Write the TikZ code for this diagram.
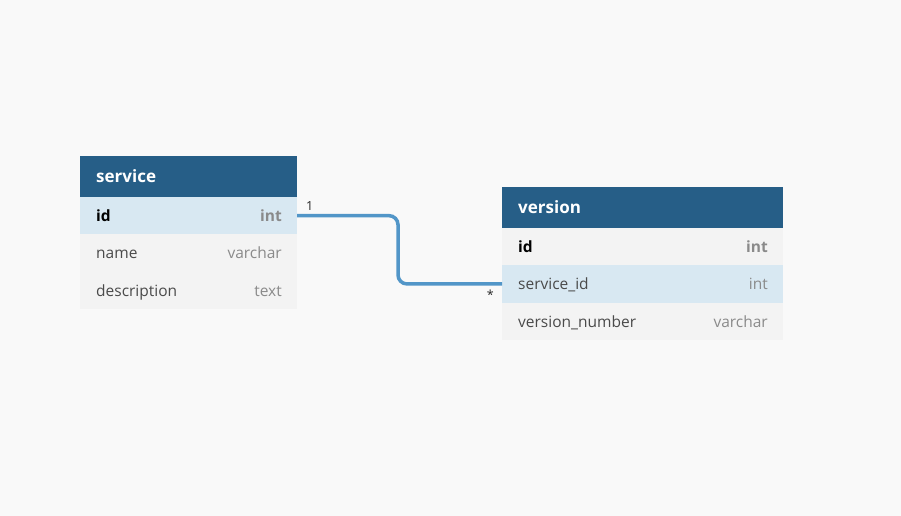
\documentclass[tikz,border=0pt]{standalone}
\usepackage{fontspec}
\setmainfont{Open Sans}
\usetikzlibrary{positioning}

\definecolor{bgcol}{HTML}{F9F9F9}
\definecolor{hdrcol}{HTML}{265E87}
\definecolor{rowcol}{HTML}{F3F3F3}
\definecolor{hicol}{HTML}{D8E8F2}
\definecolor{linkcol}{HTML}{5296C8}
\definecolor{namecol}{HTML}{4A4A4A}
\definecolor{typecol}{HTML}{8A8A8A}

\tikzset{
  cell/.style={inner sep=0pt, outer sep=0pt, minimum height=37.3pt},
  hdr/.style={cell, fill=hdrcol, minimum height=41pt},
  row/.style={cell, fill=rowcol},
  rowhi/.style={cell, fill=hicol},
  txt/.style={inner sep=0pt, text height=13pt, text depth=1pt, font=\fontsize{15.5}{18}\selectfont},
  title/.style={txt, text=white, font=\fontsize{17}{19}\selectfont\bfseries},
  fname/.style={txt, text=namecol},
  ftype/.style={txt, text=typecol},
  pkname/.style={txt, text=black, font=\fontsize{15.5}{18}\selectfont\bfseries},
  pktype/.style={txt, text=typecol, font=\fontsize{15.5}{18}\selectfont\bfseries},
  card/.style={inner sep=0pt, text=black!85, font=\fontsize{12.5}{14}\selectfont}
}

\begin{document}
\begin{tikzpicture}[x=1pt, y=-1pt]
  \fill[bgcol] (0,0) rectangle (901,516);
  \useasboundingbox (0,0) rectangle (901,516);

  % service table
  \node[hdr, minimum width=217pt, anchor=north west] (svc) at (80,156) {};
  \node[rowhi, minimum width=217pt, below=0pt of svc] (svc-id) {};
  \node[row, minimum width=217pt, below=0pt of svc-id] (svc-name) {};
  \node[row, minimum width=217pt, below=0pt of svc-name] (svc-desc) {};

  \node[title, anchor=west] (svc-t) at ([xshift=16pt]svc.west) {service};
  \node[pkname, anchor=west] (svc-id-n) at ([xshift=16pt]svc-id.west) {id};
  \node[pktype, anchor=east] (svc-id-t) at ([xshift=-15pt]svc-id.east) {int};
  \node[fname, anchor=west] (svc-name-n) at ([xshift=16pt]svc-name.west) {name};
  \node[ftype, anchor=east] (svc-name-t) at ([xshift=-15pt]svc-name.east) {varchar};
  \node[fname, anchor=west] (svc-desc-n) at ([xshift=16pt]svc-desc.west) {description};
  \node[ftype, anchor=east] (svc-desc-t) at ([xshift=-15pt]svc-desc.east) {text};

  % version table
  \node[hdr, minimum width=281pt, anchor=north west] (ver) at (502,187) {};
  \node[row, minimum width=281pt, below=0pt of ver] (ver-id) {};
  \node[rowhi, minimum width=281pt, below=0pt of ver-id] (ver-sid) {};
  \node[row, minimum width=281pt, below=0pt of ver-sid] (ver-num) {};

  \node[title, anchor=west] (ver-t) at ([xshift=16pt]ver.west) {version};
  \node[pkname, anchor=west] (ver-id-n) at ([xshift=16pt]ver-id.west) {id};
  \node[pktype, anchor=east] (ver-id-t) at ([xshift=-15pt]ver-id.east) {int};
  \node[fname, anchor=west] (ver-sid-n) at ([xshift=16pt]ver-sid.west) {service\_id};
  \node[ftype, anchor=east] (ver-sid-t) at ([xshift=-15pt]ver-sid.east) {int};
  \node[fname, anchor=west] (ver-num-n) at ([xshift=16pt]ver-num.west) {version\_number};
  \node[ftype, anchor=east] (ver-num-t) at ([xshift=-15pt]ver-num.east) {varchar};

  % relation
  \draw[linkcol, line width=3.5pt, rounded corners=9pt]
    (svc-id.east) -- ++(101,0) |- (ver-sid.west);
  \node[card, anchor=south west] (one) at ([xshift=9pt, yshift=5pt]svc-id.east) {1};
  \node[card, anchor=north east] (many) at ([xshift=-8pt, yshift=-6pt]ver-sid.west) {*};
\end{tikzpicture}
\end{document}
